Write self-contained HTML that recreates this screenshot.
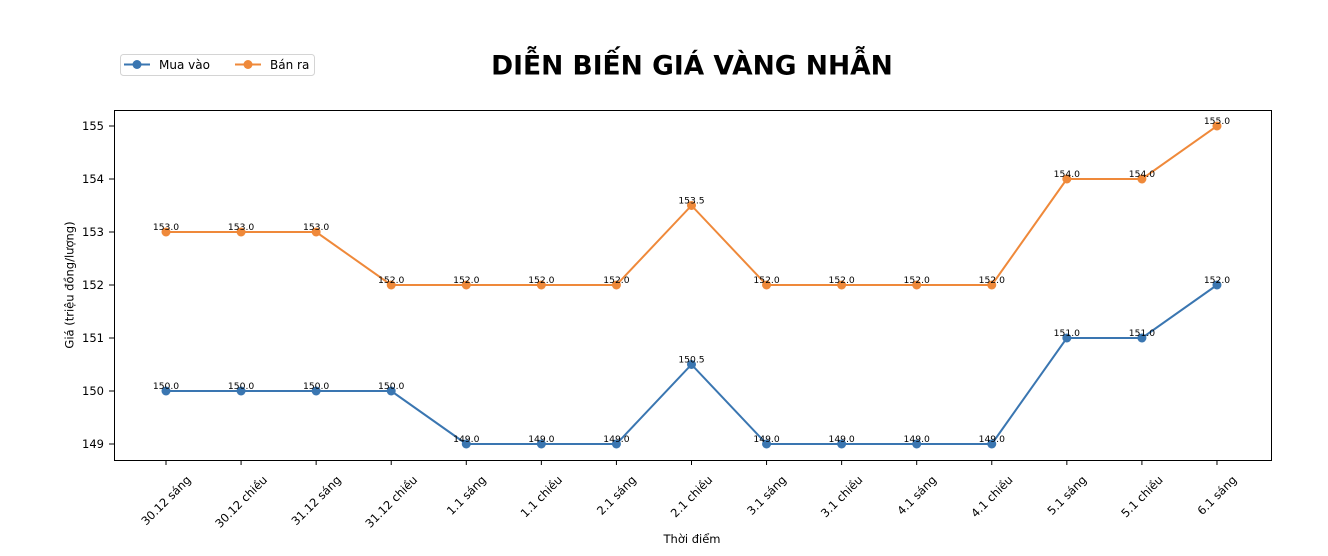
<!DOCTYPE html>
<html>
<head>
<meta charset="utf-8">
<style>
  html, body { margin: 0; padding: 0; background: #ffffff; }
  body { width: 1328px; height: 556px; overflow: hidden; }
  svg { display: block; font-family: "DejaVu Sans", "Liberation Sans", sans-serif; }
</style>
</head>
<body>
<svg width="1328" height="556" viewBox="0 0 1328 556" xmlns="http://www.w3.org/2000/svg">
  <rect x="0" y="0" width="1328" height="556" fill="#ffffff"/>

  <!-- Title -->
  <text x="692" y="74.5" text-anchor="middle" font-size="26.5" font-weight="bold" fill="#000">DIỄN BIẾN GIÁ VÀNG NHẪN</text>

  <!-- Legend -->
  <rect x="120.5" y="54.5" width="194" height="21" rx="3" ry="3" fill="#ffffff" stroke="#d4d4d4" stroke-width="1"/>
  <line x1="124" y1="64.5" x2="150" y2="64.5" stroke="#3a76b1" stroke-width="2"/>
  <circle cx="137" cy="64.5" r="4.5" fill="#3a76b1"/>
  <text x="159" y="68.8" font-size="12" fill="#000">Mua vào</text>
  <line x1="235" y1="64.5" x2="261" y2="64.5" stroke="#ef893a" stroke-width="2"/>
  <circle cx="248" cy="64.5" r="4.5" fill="#ef893a"/>
  <text x="270" y="68.8" font-size="12" fill="#000">Bán ra</text>

  <!-- Y ticks -->
  <g stroke="#000" stroke-width="1">
    <line x1="109" y1="126" x2="114" y2="126"/>
    <line x1="109" y1="179" x2="114" y2="179"/>
    <line x1="109" y1="232" x2="114" y2="232"/>
    <line x1="109" y1="285" x2="114" y2="285"/>
    <line x1="109" y1="338" x2="114" y2="338"/>
    <line x1="109" y1="391" x2="114" y2="391"/>
    <line x1="109" y1="444" x2="114" y2="444"/>
  </g>
  <g font-size="11.5" fill="#000" text-anchor="end">
    <text x="104" y="130">155</text>
    <text x="104" y="183">154</text>
    <text x="104" y="236">153</text>
    <text x="104" y="289">152</text>
    <text x="104" y="342">151</text>
    <text x="104" y="395">150</text>
    <text x="104" y="448">149</text>
  </g>

  <!-- X ticks -->
  <g stroke="#000" stroke-width="1">
    <line x1="166" y1="460" x2="166" y2="465"/>
    <line x1="241.07" y1="460" x2="241.07" y2="465"/>
    <line x1="316.14" y1="460" x2="316.14" y2="465"/>
    <line x1="391.21" y1="460" x2="391.21" y2="465"/>
    <line x1="466.28" y1="460" x2="466.28" y2="465"/>
    <line x1="541.35" y1="460" x2="541.35" y2="465"/>
    <line x1="616.42" y1="460" x2="616.42" y2="465"/>
    <line x1="691.49" y1="460" x2="691.49" y2="465"/>
    <line x1="766.56" y1="460" x2="766.56" y2="465"/>
    <line x1="841.63" y1="460" x2="841.63" y2="465"/>
    <line x1="916.7" y1="460" x2="916.7" y2="465"/>
    <line x1="991.77" y1="460" x2="991.77" y2="465"/>
    <line x1="1066.84" y1="460" x2="1066.84" y2="465"/>
    <line x1="1141.91" y1="460" x2="1141.91" y2="465"/>
    <line x1="1216.98" y1="460" x2="1216.98" y2="465"/>
  </g>
  <g font-size="11.5" fill="#000" text-anchor="middle" dominant-baseline="central">
    <text transform="translate(166,500.4) rotate(-45)">30.12 sáng</text>
    <text transform="translate(241.07,501.7) rotate(-45)">30.12 chiều</text>
    <text transform="translate(316.14,500.4) rotate(-45)">31.12 sáng</text>
    <text transform="translate(391.21,501.7) rotate(-45)">31.12 chiều</text>
    <text transform="translate(466.28,495.3) rotate(-45)">1.1 sáng</text>
    <text transform="translate(541.35,496.5) rotate(-45)">1.1 chiều</text>
    <text transform="translate(616.42,495.3) rotate(-45)">2.1 sáng</text>
    <text transform="translate(691.49,496.5) rotate(-45)">2.1 chiều</text>
    <text transform="translate(766.56,495.3) rotate(-45)">3.1 sáng</text>
    <text transform="translate(841.63,496.5) rotate(-45)">3.1 chiều</text>
    <text transform="translate(916.7,495.3) rotate(-45)">4.1 sáng</text>
    <text transform="translate(991.77,496.5) rotate(-45)">4.1 chiều</text>
    <text transform="translate(1066.84,495.3) rotate(-45)">5.1 sáng</text>
    <text transform="translate(1141.91,496.5) rotate(-45)">5.1 chiều</text>
    <text transform="translate(1216.98,495.3) rotate(-45)">6.1 sáng</text>
  </g>

  <!-- Axis labels -->
  <text transform="translate(73.5,285) rotate(-90)" text-anchor="middle" font-size="11.5" fill="#000">Giá (triệu đồng/lượng)</text>
  <text x="692" y="543" text-anchor="middle" font-size="11.5" fill="#000">Thời điểm</text>

  <!-- Series: Bán ra (orange) -->
  <polyline fill="none" stroke="#ef893a" stroke-width="2" stroke-linejoin="round"
    points="166,232 241.07,232 316.14,232 391.21,285 466.28,285 541.35,285 616.42,285 691.49,205.5 766.56,285 841.63,285 916.7,285 991.77,285 1066.84,179 1141.91,179 1216.98,126"/>
  <g fill="#ef893a">
    <circle cx="166" cy="232" r="4.5"/>
    <circle cx="241.07" cy="232" r="4.5"/>
    <circle cx="316.14" cy="232" r="4.5"/>
    <circle cx="391.21" cy="285" r="4.5"/>
    <circle cx="466.28" cy="285" r="4.5"/>
    <circle cx="541.35" cy="285" r="4.5"/>
    <circle cx="616.42" cy="285" r="4.5"/>
    <circle cx="691.49" cy="205.5" r="4.5"/>
    <circle cx="766.56" cy="285" r="4.5"/>
    <circle cx="841.63" cy="285" r="4.5"/>
    <circle cx="916.7" cy="285" r="4.5"/>
    <circle cx="991.77" cy="285" r="4.5"/>
    <circle cx="1066.84" cy="179" r="4.5"/>
    <circle cx="1141.91" cy="179" r="4.5"/>
    <circle cx="1216.98" cy="126" r="4.5"/>
  </g>

  <!-- Series: Mua vào (blue) -->
  <polyline fill="none" stroke="#3a76b1" stroke-width="2" stroke-linejoin="round"
    points="166,391 241.07,391 316.14,391 391.21,391 466.28,444 541.35,444 616.42,444 691.49,364.5 766.56,444 841.63,444 916.7,444 991.77,444 1066.84,338 1141.91,338 1216.98,285"/>
  <g fill="#3a76b1">
    <circle cx="166" cy="391" r="4.5"/>
    <circle cx="241.07" cy="391" r="4.5"/>
    <circle cx="316.14" cy="391" r="4.5"/>
    <circle cx="391.21" cy="391" r="4.5"/>
    <circle cx="466.28" cy="444" r="4.5"/>
    <circle cx="541.35" cy="444" r="4.5"/>
    <circle cx="616.42" cy="444" r="4.5"/>
    <circle cx="691.49" cy="364.5" r="4.5"/>
    <circle cx="766.56" cy="444" r="4.5"/>
    <circle cx="841.63" cy="444" r="4.5"/>
    <circle cx="916.7" cy="444" r="4.5"/>
    <circle cx="991.77" cy="444" r="4.5"/>
    <circle cx="1066.84" cy="338" r="4.5"/>
    <circle cx="1141.91" cy="338" r="4.5"/>
    <circle cx="1216.98" cy="285" r="4.5"/>
  </g>

  <!-- Data labels -->
  <g font-size="9.2" fill="#000" text-anchor="middle">
    <text x="166" y="230">153.0</text>
    <text x="241.07" y="230">153.0</text>
    <text x="316.14" y="230">153.0</text>
    <text x="391.21" y="283">152.0</text>
    <text x="466.28" y="283">152.0</text>
    <text x="541.35" y="283">152.0</text>
    <text x="616.42" y="283">152.0</text>
    <text x="691.49" y="203.5">153.5</text>
    <text x="766.56" y="283">152.0</text>
    <text x="841.63" y="283">152.0</text>
    <text x="916.7" y="283">152.0</text>
    <text x="991.77" y="283">152.0</text>
    <text x="1066.84" y="177">154.0</text>
    <text x="1141.91" y="177">154.0</text>
    <text x="1216.98" y="124">155.0</text>

    <text x="166" y="389">150.0</text>
    <text x="241.07" y="389">150.0</text>
    <text x="316.14" y="389">150.0</text>
    <text x="391.21" y="389">150.0</text>
    <text x="466.28" y="442">149.0</text>
    <text x="541.35" y="442">149.0</text>
    <text x="616.42" y="442">149.0</text>
    <text x="691.49" y="362.5">150.5</text>
    <text x="766.56" y="442">149.0</text>
    <text x="841.63" y="442">149.0</text>
    <text x="916.7" y="442">149.0</text>
    <text x="991.77" y="442">149.0</text>
    <text x="1066.84" y="336">151.0</text>
    <text x="1141.91" y="336">151.0</text>
    <text x="1216.98" y="283">152.0</text>
  </g>

  <!-- Axes frame -->
  <rect x="114.5" y="110.5" width="1157" height="350" fill="none" stroke="#000" stroke-width="1"/>
</svg>
</body>
</html>
